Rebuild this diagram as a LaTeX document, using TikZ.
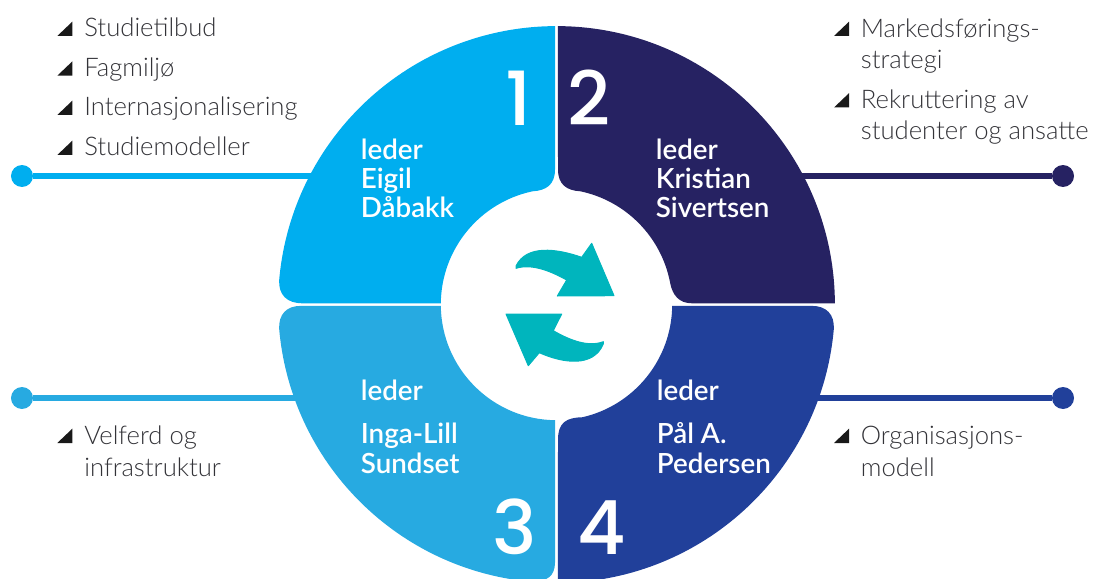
\documentclass[tikz,border=0pt]{standalone}
\usepackage{fontspec}
\setmainfont{Lato Light}[BoldFont={Lato Semibold}]
\newfontfamily\numfont{Poppins Medium}
\definecolor{blueA}{HTML}{00AEEF}
\definecolor{blueB}{HTML}{262262}
\definecolor{blueC}{HTML}{27AAE1}
\definecolor{blueD}{HTML}{21409A}
\definecolor{tealArrow}{HTML}{00B5BD}
\definecolor{textGray}{HTML}{333338}
\def\Ro{278.4}
\def\Ri{115.7}
\tikzset{
	listtext/.style={anchor=base west, inner sep=0pt, align=left, text=textGray, font=\fontsize{14.6}{18.2}\selectfont},
	leader/.style={anchor=base west, inner sep=0pt, align=left, text=white, font=\fontsize{15.8}{16.6}\selectfont\bfseries},
	bignum/.style={anchor=base, inner sep=0pt, text=white, font=\fontsize{42.5}{42.5}\selectfont\numfont},
	dot/.style={circle, inner sep=0pt, minimum size=0.44cm},
	swap/.style={fill=tealArrow, draw=tealArrow, line width=0.02cm, line join=round},
	tri/.pic={\fill[black!90] (-15,0) -- (0,0) -- (0,14.3) -- cycle;},
}
\begin{document}
\begin{tikzpicture}[x=0.02cm,y=0.02cm]
\useasboundingbox (-556.5,-273.5) rectangle (537.5,304.5);
% connectors
\foreach \name/\col/\x/\y/\xe in {a/blueA/-534.5/128.5/-230, b/blueB/506.5/128.5/230, c/blueC/-534.5/-93.5/-240, d/blueD/506.5/-93.5/240}
{
	\node[dot, fill=\col] (dot\name) at (\x,\y) {};
	\coordinate (end\name) at (\xe,\y);
	\draw[\col, line width=0.105cm] (dot\name) -- (end\name);
}
% quadrants
\fill[blueA] (90.3:\Ro) arc (90.3:175:\Ro) .. controls (-278,10) and (-270,1.2) .. (-254,1.2)
	-- (179.4:\Ri) arc (179.4:102:\Ri) .. controls (-10,114) and (-1.5,120) .. (-1.5,135) -- cycle;
\fill[blueB] (89.7:\Ro) arc (89.7:0.25:\Ro) -- (135.5,1.2) .. controls (122,1.2) and (116,10) .. (10.5:\Ri)
	arc (10.5:78:\Ri) .. controls (10,114) and (1.5,120) .. (1.5,135) -- cycle;
\fill[blueC] (180.7:\Ri) -- (-256,-1.4) .. controls (-270,-1.4) and (-278,-10) .. (185:\Ro)
	arc (185:265:\Ro) .. controls (-10,-277) and (-1.5,-272) .. (-1.5,-258) -- (269.3:\Ri) arc (269.3:180.7:\Ri) -- cycle;
\fill[blueD] (270.3:\Ro) arc (270.3:355:\Ro) .. controls (278,-10) and (270,-1.4) .. (255.5,-1.4)
	-- (359.3:\Ri) arc (359.3:283:\Ri) .. controls (10,-113) and (1.5,-118) .. (1.5,-135) -- cycle;
% arrows
\filldraw[swap] (35.2,61.2) -- (57.5,8.8) -- (0.8,8.5) -- (10.2,24.5) .. controls (0,30) and (-22,42) .. (-40.5,36.2)
	-- (-40.5,38.5) .. controls (-30,60) and (0,56) .. (25.2,47.2) -- cycle;
\filldraw[swap] (-28.2,-61.2) -- (-50.5,-9.5) -- (5.2,-9.5) -- (-3.2,-26.2) .. controls (7,-32) and (29,-44) .. (46.8,-37.2)
	-- (46.8,-39.5) .. controls (37,-63) and (7,-59) .. (-17.2,-48.2) -- cycle;
% numbers
\node[bignum] (numa) at (-38,178.5) {1};
\node[bignum] (numb) at (33,178.5) {2};
\node[bignum] (numc) at (-41.5,-249.5) {3};
\node[bignum] (numd) at (45,-249.5) {4};
% leaders
\node[leader] (leada) at (-196,86.5) {leder\\Eigil\\Dåbakk};
\node[leader] (leadb) at (99,86.5) {leder\\Kristian\\Sivertsen};
\node[leader] (leadc) at (-196,-95.5) {leder};
\node[leader] (leadcc) at (-196,-168.5) {Inga-Lill\\Sundset};
\node[leader] (leadd) at (100,-95.5) {leder};
\node[leader] (leaddd) at (100,-168.5) {Pål A.\\Pedersen};
% lists
\foreach \i/\y/\txt in {1/268.5/Studietilbud, 2/228.8/Fagmiljø, 3/189.5/Internasjonalisering, 4/149.5/Studiemodeller}
{
	\pic at (-484.2,\y) {tri};
	\node[listtext] (lista\i) at (-472.5,\y-1) {\txt};
}
\pic at (292.5,268.5) {tri};
\node[listtext] (listb1) at (304,235.5) {Markedsførings-\\strategi};
\pic at (292.5,197) {tri};
\node[listtext] (listb2) at (304,164.5) {Rekruttering av\\studenter og ansatte};
\pic at (-484.2,-138.5) {tri};
\node[listtext] (listc1) at (-472.5,-171.5) {Velferd og\\infrastruktur};
\pic at (292.5,-138.5) {tri};
\node[listtext] (listd1) at (304,-171.5) {Organisasjons-\\modell};
\end{tikzpicture}
\end{document}
